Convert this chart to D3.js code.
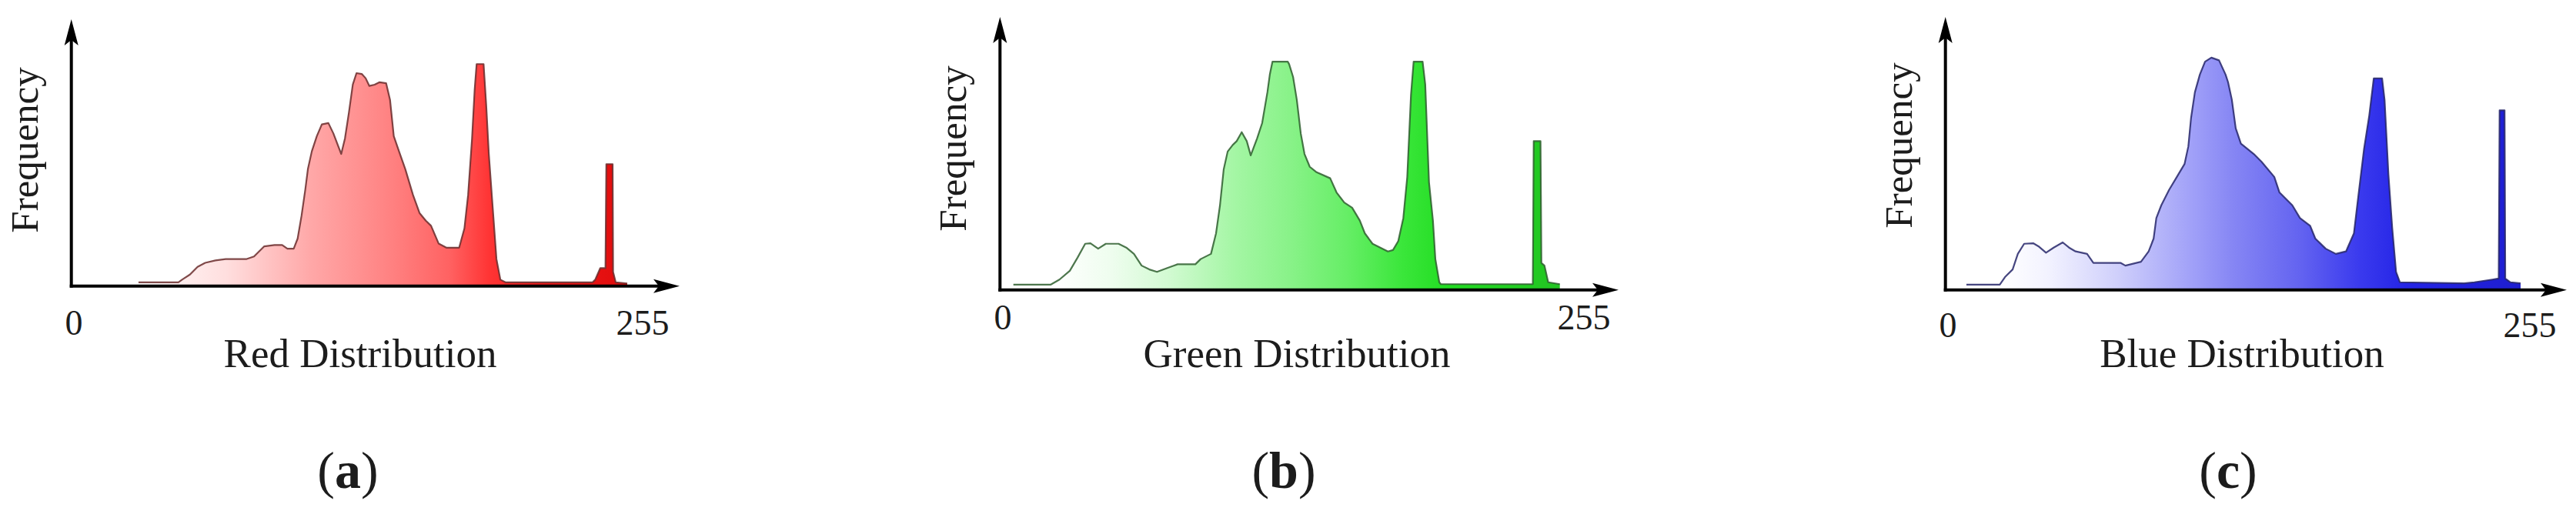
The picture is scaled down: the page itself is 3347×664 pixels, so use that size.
<!DOCTYPE html>
<html>
<head>
<meta charset="utf-8">
<script src="https://cdn.jsdelivr.net/npm/d3@7/dist/d3.min.js"></script>
<style>
  html, body { margin: 0; padding: 0; background: #ffffff; }
  svg { display: block; }
  text { font-family: "Liberation Serif", "Times New Roman", "DejaVu Serif", serif; fill: #1c1c1c; }
</style>
</head>
<body>
<svg id="chart" width="3347" height="664"></svg>
<script>
// ---------------- DATA ----------------
// intensity level (0-255) and relative frequency (0-100 = top of the y axis)
const redLevels = [30.8,49.1,50.8,54.4,57.9,61.4,66.1,70.8,80.2,83.8,88.5,93.2,96.7,99.1,102.0,103.8,105.6,107.3,108.5,110.3,112.6,114.9,117.9,120.2,123.8,125.5,127.3,129.1,130.8,133.2,135.0,136.7,139.1,141.4,144.4,146.2,147.9,150.3,153.2,156.7,159.7,162.6,165.0,168.5,172.0,177.9,180.3,182.0,183.8,185.0,185.9,189.1,190.3,191.5,193.2,195.0,196.8,199.1,239.1,240.3,242.6,245.0,245.4,248.3,248.5,249.7,255];
const redFreq   = [1.4,1.4,2.4,4.3,7.2,8.7,9.6,10.1,10.1,11.1,14.9,15.4,15.4,14.0,14.0,17.8,26.4,36.1,43.8,50.5,56.2,60.6,61.1,57.2,49.5,55.3,64.9,75.5,79.8,79.5,77.9,75.0,75.5,76.4,76.0,69.7,56.2,50.5,43.8,34.2,27.4,24.5,22.6,15.9,14.4,14.4,21.6,34.2,55.3,73.6,83.2,83.2,67.8,49.5,30.3,10.1,2.4,1.4,1.4,2.4,6.7,6.7,45.7,45.7,5.3,1.4,1.0];

const greenLevels = [6.1,23.0,27.1,31.8,35.3,38.8,41.2,44.7,48.2,54.0,57.5,61.0,64.5,68.0,71.5,76.2,80.9,89.0,91.4,96.1,98.4,100.2,101.9,103.7,106.0,107.8,110.1,112.4,114.2,117.1,119.4,121.8,122.9,124.1,131.1,131.7,133.5,135.2,137.0,138.7,141.1,144.0,150.4,153.3,156.8,160.4,163.9,166.2,169.7,173.2,176.7,179.0,181.4,183.7,185.5,187.2,188.4,192.5,193.7,195.4,197.2,198.3,200.1,200.8,242.7,243.1,246.2,246.6,248.0,249.7,255];
const greenFreq   = [1.9,1.9,3.8,7.0,11.8,16.9,17.1,15.1,16.9,16.9,15.5,13.2,8.9,7.5,6.6,8.0,9.4,9.4,11.3,13.2,20.7,31.0,44.2,50.7,53.1,54.5,57.8,54.5,49.3,55.5,61.1,72.4,78.9,83.6,83.6,82.7,78.0,69.6,57.3,49.8,45.1,43.2,40.9,35.7,32.0,30.1,25.4,20.7,16.9,15.5,14.1,14.6,17.9,26.3,41.4,71.4,83.6,83.6,75.2,39.5,25.4,11.3,2.8,2.1,2.1,54.5,54.5,9.9,8.9,2.8,2.1];

const blueLevels = [9.3,24.1,26.4,29.8,32.1,34.9,38.9,41.2,44.6,48.0,52.0,54.8,57.7,62.8,65.6,70.7,77.6,79.8,86.7,90.1,92.3,93.5,95.7,99.2,102.6,106.0,107.7,108.9,110.6,112.8,115.1,117.9,121.3,124.2,125.3,127.0,128.7,131.0,136.7,140.1,145.8,148.1,153.8,157.2,161.7,164.0,168.6,173.1,177.6,181.1,183.4,185.6,187.9,189.9,193.6,194.7,196.4,198.1,199.8,201.5,230.0,234.5,242.5,245.3,245.7,247.9,248.2,250.5,255];
const blueFreq   = [1.9,1.9,4.7,7.5,13.2,16.9,17.1,16.0,13.6,15.5,17.4,15.5,14.1,13.2,9.9,9.9,9.9,8.9,10.3,14.1,18.8,26.3,31.0,36.7,41.4,46.1,52.6,63.0,72.4,78.9,83.6,85.1,84.1,78.9,76.1,69.6,59.2,53.6,49.8,47.0,41.4,35.7,31.0,26.3,23.5,18.8,15.1,13.2,14.1,20.7,36.7,51.7,63.9,77.5,77.5,69.6,42.3,22.6,6.6,2.8,2.4,2.8,3.8,4.2,65.8,65.8,4.2,2.8,2.4];

const channels    = ["Red", "Green", "Blue"];
const axisTitles  = ["Red Distribution", "Green Distribution", "Blue Distribution"];
const yTitle      = "Frequency";
const tickLabels  = ["0", "255"];
const tickValues  = [0, 255];
const panelLetters = ["a", "b", "c"];

// ---------------- LAYOUT / STYLE ----------------
const panels = [
  { levels: redLevels, freq: redFreq,
    x0: 92.7, x255: 815, arrowX: 883, base: 371.7, top: 25,
    stops: [[0, "#ffffff"], [0.12, "#ffffff"], [0.28, "#ffdede"], [0.43, "#ffa8a8"], [0.58, "#ff8080"], [0.68, "#ff6262"], [0.75, "#ff3535"], [0.85, "#f01a1a"], [1, "#e00c0c"]],
    stroke: "#6a2c2c", tail: "#c81818",
    tick0: 96, tick255: 835, tickY: 435, titleX: 468, titleY: 477, yTitleX: 49, yTitleY: 195,
    letterX: 452 },
  { levels: greenLevels, freq: greenFreq,
    x0: 1299.3, x255: 2026.7, arrowX: 2103, base: 376.7, top: 22,
    stops: [[0, "#ffffff"], [0.1, "#ffffff"], [0.2, "#eefdee"], [0.3, "#d2fad2"], [0.42, "#a4f6a4"], [0.52, "#88f288"], [0.62, "#66ee66"], [0.72, "#3ae63a"], [0.8, "#22dd22"], [1, "#22c422"]],
    stroke: "#2e5e2e", tail: "#1f9a1f",
    tick0: 1303, tick255: 2058, tickY: 428, titleX: 1685, titleY: 477, yTitleX: 1255, yTitleY: 193,
    letterX: 1668 },
  { levels: blueLevels, freq: blueFreq,
    x0: 2527.7, x255: 3275, arrowX: 3335, base: 376.7, top: 22,
    stops: [[0, "#ffffff"], [0.1, "#ffffff"], [0.18, "#f2f2ff"], [0.3, "#cfcffb"], [0.43, "#a0a0f8"], [0.5, "#8686f4"], [0.62, "#6262f0"], [0.72, "#3a3aee"], [0.8, "#2424e6"], [1, "#1e1ed0"]],
    stroke: "#26266a", tail: "#1c1cb0",
    tick0: 2531, tick255: 3287, tickY: 438, titleX: 2913, titleY: 477, yTitleX: 2484, yTitleY: 189,
    letterX: 2895 }
];

const svg = d3.select("#chart");
const defs = svg.append("defs");

panels.forEach((p, i) => {
  const x = d3.scaleLinear().domain([0, 255]).range([p.x0, p.x255]);
  const y = d3.scaleLinear().domain([0, 100]).range([p.base, p.top]);
  const data = p.levels.map((l, k) => ({ l, f: p.freq[k] }));

  // horizontal gradient along the intensity axis
  const gid = "grad" + channels[i];
  const g = defs.append("linearGradient").attr("id", gid)
    .attr("gradientUnits", "userSpaceOnUse")
    .attr("x1", x(0)).attr("x2", x(255)).attr("y1", 0).attr("y2", 0);
  p.stops.forEach(s => g.append("stop").attr("offset", s[0]).attr("stop-color", s[1]));

  const gp = svg.append("g").attr("class", "panel-" + channels[i]);

  const area = d3.area().x(d => x(d.l)).y0(y(0)).y1(d => y(d.f)).curve(d3.curveLinear);
  const line = d3.line().x(d => x(d.l)).y(d => y(d.f)).curve(d3.curveLinear);

  gp.append("path").datum(data).attr("d", area).attr("fill", `url(#${gid})`);
  gp.append("path").datum(data).attr("d", line)
    .attr("fill", "none").attr("stroke", p.stroke).attr("stroke-width", 2.2)
    .attr("stroke-opacity", 0.85).attr("stroke-linejoin", "round");

  // axes with arrows
  const ax = x(0), by = y(0), ty = y(100);
  gp.append("line").attr("x1", ax).attr("y1", by + 2).attr("x2", ax).attr("y2", ty + 20)
    .attr("stroke", "#000").attr("stroke-width", 4);
  gp.append("path")
    .attr("d", `M${ax},${ty} L${ax - 9},${ty + 34} L${ax},${ty + 27} L${ax + 9},${ty + 34} Z`)
    .attr("fill", "#000");
  gp.append("line").attr("x1", ax - 2).attr("y1", by).attr("x2", p.arrowX - 20).attr("y2", by)
    .attr("stroke", "#000").attr("stroke-width", 4);
  gp.append("path")
    .attr("d", `M${p.arrowX},${by} L${p.arrowX - 34},${by - 9} L${p.arrowX - 27},${by} L${p.arrowX - 34},${by + 9} Z`)
    .attr("fill", "#000");

  // tick labels
  const tickPos = [p.tick0, p.tick255];
  tickLabels.forEach((t, k) => {
    gp.append("text").attr("x", tickPos[k]).attr("y", p.tickY)
      .attr("text-anchor", "middle").attr("font-size", 46).text(t);
  });

  // axis titles
  gp.append("text").attr("x", p.titleX).attr("y", p.titleY)
    .attr("text-anchor", "middle").attr("font-size", 53).text(axisTitles[i]);
  gp.append("text")
    .attr("transform", `translate(${p.yTitleX},${p.yTitleY}) rotate(-90)`)
    .attr("text-anchor", "middle").attr("font-size", 51).text(yTitle);

  // panel letter
  const lt = svg.append("text").attr("x", p.letterX).attr("y", 634)
    .attr("text-anchor", "middle").attr("font-size", 68);
  lt.append("tspan").text("(");
  lt.append("tspan").attr("font-weight", "bold").text(panelLetters[i]);
  lt.append("tspan").text(")");
});
</script>
</body>
</html>
